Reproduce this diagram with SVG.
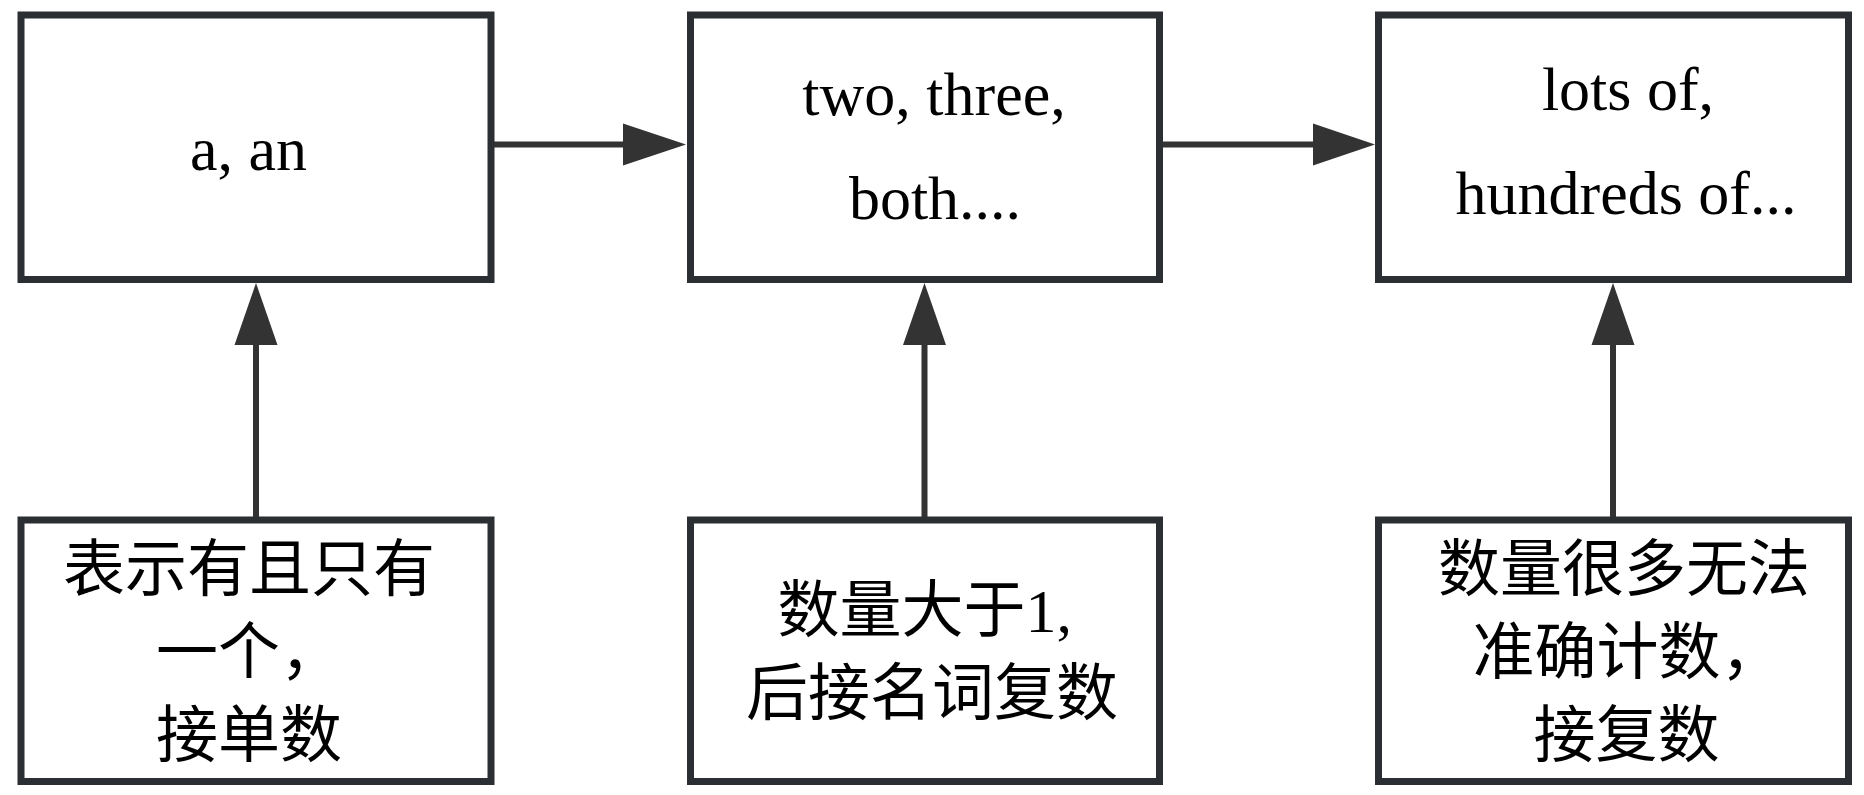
<svg xmlns="http://www.w3.org/2000/svg" width="1864" height="795" viewBox="0 0 1864 795">
<style>
.box{fill:#ffffff;stroke:#2b2f33;stroke-width:7}
.ln{stroke:#333333;stroke-width:6;fill:none}
.ah{fill:#333333}
.en{font-family:"Liberation Serif","Times New Roman",serif;font-size:62px;fill:#000;text-anchor:middle}
.zh{font-family:"Liberation Serif","Noto Sans CJK SC",serif;font-size:62px;fill:#000}
</style>
<rect width="1864" height="795" fill="#ffffff"/>
<g id="connectors">
<line class="ln" x1="494" y1="144.5" x2="626" y2="144.5"/>
<polygon class="ah" points="623,123.5 686,144.5 623,165.5"/>
<line class="ln" x1="1163" y1="144.5" x2="1316" y2="144.5"/>
<polygon class="ah" points="1313,123.5 1375,144.5 1313,165.5"/>
<line class="ln" x1="256" y1="517" x2="256" y2="342"/>
<polygon class="ah" points="234.5,345 256,283 277.5,345"/>
<line class="ln" x1="924.5" y1="517" x2="924.5" y2="342"/>
<polygon class="ah" points="903,345 924.5,283 946,345"/>
<line class="ln" x1="1613" y1="517" x2="1613" y2="342"/>
<polygon class="ah" points="1591.5,345 1613,283 1634.5,345"/>
</g>
<g id="node-a-an">
<rect class="box" x="21" y="15" width="470" height="264.5"/>
<text class="en" x="248.5" y="170">a, an</text>
</g>
<g id="node-two-three">
<rect class="box" x="690.5" y="15" width="469" height="264.5"/>
<text class="en" x="934" y="115">two, three,</text>
<text class="en" x="935" y="219">both....</text>
</g>
<g id="node-lots-of">
<rect class="box" x="1378.5" y="15" width="470" height="264.5"/>
<text class="en" x="1628" y="110">lots of,</text>
<text class="en" x="1626" y="214">hundreds of...</text>
</g>
<g id="node-single">
<rect class="box" x="21" y="520" width="470" height="261.5"/>
<text class="zh" x="63" y="591">表示有且只有</text>
<text class="zh" x="156" y="674">一个，</text>
<text class="zh" x="156" y="757">接单数</text>
</g>
<g id="node-plural">
<rect class="box" x="690.5" y="520" width="469" height="261.5"/>
<text class="zh" x="777.5" y="632">数量大于1,</text>
<text class="zh" x="746" y="715">后接名词复数</text>
</g>
<g id="node-many">
<rect class="box" x="1378.5" y="520" width="470" height="261.5"/>
<text class="zh" x="1438" y="591">数量很多无法</text>
<text class="zh" x="1472.5" y="674">准确计数，</text>
<text class="zh" x="1533.5" y="757">接复数</text>
</g>
</svg>
